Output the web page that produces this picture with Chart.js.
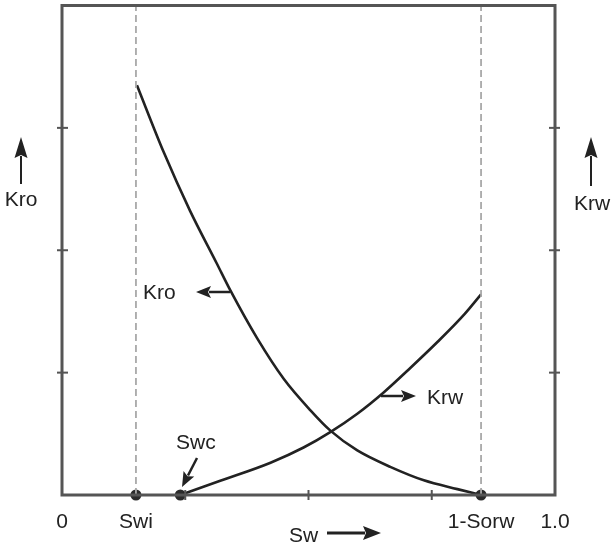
<!DOCTYPE html>
<html>
<head>
<meta charset="utf-8">
<script src="https://cdn.jsdelivr.net/npm/chart.js@4/dist/chart.umd.min.js"></script>
<style>
  html, body { margin: 0; padding: 0; background: #fff; }
  #wrap { width: 616px; height: 544px; }
</style>
</head>
<body>
<div id="wrap"><canvas id="relperm"></canvas></div>
<script>
// ─── Data ─────────────────────────────────────────────────────────────────────

const kroSw  = [0.152, 0.206, 0.260, 0.314, 0.341, 0.396, 0.450, 0.504, 0.545, 0.599, 0.667, 0.734, 0.802, 0.850];
const kroVal = [0.837, 0.701, 0.580, 0.473, 0.419, 0.320, 0.237, 0.173, 0.131, 0.091, 0.057, 0.030, 0.012, 0.000];

const krwSw  = [0.240, 0.321, 0.423, 0.490, 0.545, 0.599, 0.653, 0.707, 0.762, 0.816, 0.850];
const krwVal = [0.000, 0.029, 0.066, 0.097, 0.129, 0.166, 0.210, 0.260, 0.313, 0.369, 0.410];

// Swi, Swc, 1-Sorw
const markerSw = [0.15, 0.24, 0.85];
const dashedSw = [0.15, 0.85];

const xTickValues = [0, 0.15, 0.85, 1.0];
const xTickLabels = ['0', 'Swi', '1-Sorw', '1.0'];
const minorTicks = [0.25, 0.5, 0.75];

const FONT = '"Liberation Sans", Arial, sans-serif';
const INK = '#222';
const FRAME = '#555';

// ─── Helpers ─────────────────────────────────────────────────────────────────

function pairs(xs, ys) {
  return xs.map((x, i) => ({ x, y: ys[i] }));
}

function arrow(ctx, x1, y1, x2, y2, head = 11, width = 9) {
  const ang = Math.atan2(y2 - y1, x2 - x1);
  const bx = x2 - head * Math.cos(ang);
  const by = y2 - head * Math.sin(ang);
  ctx.beginPath();
  ctx.moveTo(x1, y1);
  ctx.lineTo(bx + 2 * Math.cos(ang), by + 2 * Math.sin(ang));
  ctx.stroke();
  ctx.beginPath();
  ctx.moveTo(x2, y2);
  ctx.lineTo(bx + width / 2 * Math.sin(ang), by - width / 2 * Math.cos(ang));
  ctx.lineTo(bx + 3 * Math.cos(ang), by + 3 * Math.sin(ang));
  ctx.lineTo(bx - width / 2 * Math.sin(ang), by + width / 2 * Math.cos(ang));
  ctx.closePath();
  ctx.fill();
}

// ─── Decorations: frame, ticks, labels, arrows ───────────────────────────────

const decorations = {
  id: 'decorations',
  afterDatasetsDraw(chart) {
    const { ctx, chartArea: a, scales } = chart;
    const xs = scales.x, ys = scales.y;
    ctx.save();

    // frame
    ctx.strokeStyle = FRAME;
    ctx.lineWidth = 3;
    ctx.strokeRect(a.left, a.top, a.right - a.left, a.bottom - a.top);

    // small tick marks
    ctx.lineWidth = 2;
    for (const v of minorTicks) {
      const px = xs.getPixelForValue(v);
      ctx.beginPath(); ctx.moveTo(px, a.bottom - 5); ctx.lineTo(px, a.bottom + 5); ctx.stroke();
      const py = ys.getPixelForValue(v);
      ctx.beginPath(); ctx.moveTo(a.left - 5, py); ctx.lineTo(a.left + 6, py); ctx.stroke();
      ctx.beginPath(); ctx.moveTo(a.right - 6, py); ctx.lineTo(a.right + 5, py); ctx.stroke();
    }

    ctx.fillStyle = INK;
    ctx.strokeStyle = INK;
    ctx.font = `21px ${FONT}`;
    ctx.textBaseline = 'middle';
    ctx.textAlign = 'center';

    // side axis titles
    ctx.fillText('Kro', 21, 200);
    ctx.fillText('Krw', 592, 204);
    ctx.lineWidth = 2;
    arrow(ctx, 21, 184, 21, 137, 21, 13);
    arrow(ctx, 591, 186, 591, 137, 21, 13);

    // in-plot labels
    ctx.textAlign = 'left';
    ctx.fillText('Kro', 143, 293);
    ctx.lineWidth = 2.5;
    arrow(ctx, 230, 292, 196, 292, 15, 12);

    ctx.fillText('Krw', 427, 398);
    arrow(ctx, 381, 396, 416, 396, 15, 12);

    ctx.fillText('Swc', 176, 443);
    arrow(ctx, 197, 458, 182, 487, 15, 12);

    ctx.fillText('Sw', 289, 536);
    ctx.lineWidth = 3;
    arrow(ctx, 327, 533, 381, 533, 18, 14);

    ctx.restore();
  },
};

// ─── Chart ───────────────────────────────────────────────────────────────────

const dashedSets = dashedSw.map((v) => ({
  data: [{ x: v, y: 0 }, { x: v, y: 1 }],
  showLine: true,
  borderColor: '#a8a8a8',
  borderWidth: 1.8,
  borderDash: [7, 4],
  pointRadius: 0,
}));

new Chart(document.getElementById('relperm'), {
  type: 'scatter',
  data: {
    datasets: [
      ...dashedSets,
      {
        label: 'Kro',
        data: pairs(kroSw, kroVal),
        showLine: true,
        borderColor: INK,
        borderWidth: 2.6,
        cubicInterpolationMode: 'monotone',
        pointRadius: 0,
      },
      {
        label: 'Krw',
        data: pairs(krwSw, krwVal),
        showLine: true,
        borderColor: INK,
        borderWidth: 2.6,
        cubicInterpolationMode: 'monotone',
        pointRadius: 0,
      },
      {
        label: 'markers',
        data: markerSw.map((x) => ({ x, y: 0 })),
        pointRadius: 5.5,
        pointBackgroundColor: '#2a2a2a',
        pointBorderWidth: 0,
        clip: false,
      },
    ],
  },
  options: {
    responsive: true,
    maintainAspectRatio: false,
    animation: false,
    layout: { padding: { left: 62, right: 61, top: 3, bottom: 0 } },
    plugins: { legend: { display: false }, tooltip: { enabled: false } },
    scales: {
      x: {
        type: 'linear',
        min: 0,
        max: 1,
        afterFit: (axis) => { axis.height = 49; },
        afterBuildTicks: (axis) => { axis.ticks = xTickValues.map((value) => ({ value })); },
        grid: { display: false, drawTicks: false },
        border: { display: false },
        ticks: {
          padding: 15,
          autoSkip: false,
          maxRotation: 0,
          color: INK,
          font: { family: FONT, size: 21 },
          callback: (v) => {
            const i = xTickValues.indexOf(v);
            return i >= 0 ? xTickLabels[i] : '';
          },
        },
      },
      y: {
        type: 'linear',
        min: 0,
        max: 1,
        display: false,
      },
    },
  },
  plugins: [decorations],
});
</script>
</body>
</html>
